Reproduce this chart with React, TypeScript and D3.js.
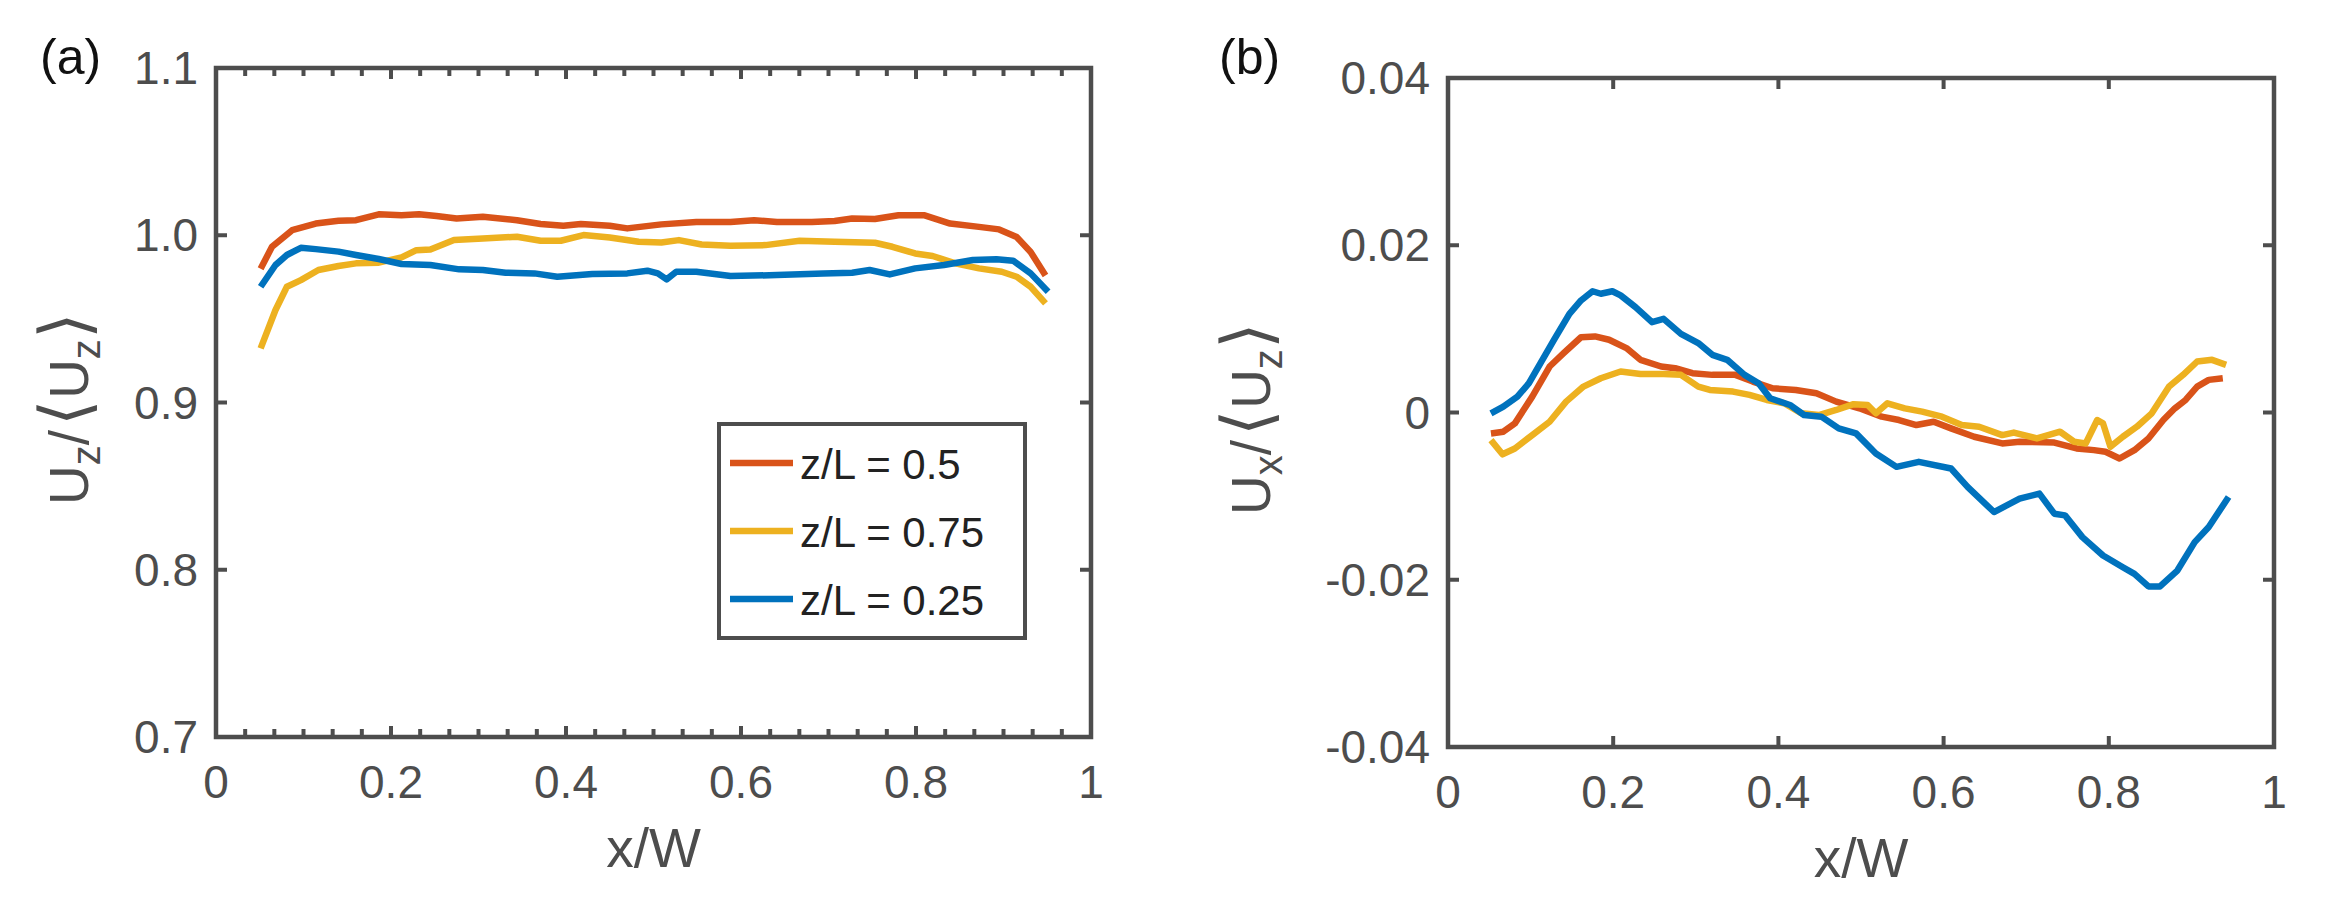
import { useEffect } from 'react';
import * as d3 from 'd3';

type Pt = readonly [number, number];

// ---- data: panel (a), Uz / <Uz> across the width ----
const uzMid: Pt[] = [
  [0.051, 0.98], [0.064, 0.9931], [0.087, 1.003], [0.114, 1.007], [0.14, 1.0087],
  [0.16, 1.009], [0.186, 1.0125], [0.212, 1.012], [0.232, 1.0125], [0.252, 1.0115],
  [0.275, 1.01], [0.305, 1.011], [0.344, 1.009], [0.371, 1.0067], [0.397, 1.0057],
  [0.417, 1.0067], [0.45, 1.0057], [0.47, 1.0041], [0.509, 1.0065], [0.549, 1.0079],
  [0.588, 1.0079], [0.615, 1.009], [0.641, 1.0079], [0.681, 1.0079], [0.707, 1.0085],
  [0.727, 1.01], [0.753, 1.0097], [0.78, 1.012], [0.809, 1.012], [0.839, 1.007],
  [0.872, 1.005], [0.895, 1.0035], [0.915, 0.999], [0.931, 0.99], [0.948, 0.976],
];
const uzUpper: Pt[] = [
  [0.051, 0.9324], [0.068, 0.9553], [0.081, 0.9692], [0.097, 0.9732], [0.117, 0.9792],
  [0.14, 0.9816], [0.16, 0.9832], [0.186, 0.9836], [0.212, 0.9868], [0.229, 0.9911],
  [0.245, 0.9915], [0.272, 0.9971], [0.305, 0.9981], [0.344, 0.9991], [0.371, 0.9967],
  [0.394, 0.9967], [0.42, 1.0001], [0.45, 0.9987], [0.483, 0.9961], [0.509, 0.9957],
  [0.529, 0.9971], [0.555, 0.9945], [0.588, 0.9937], [0.628, 0.9941], [0.667, 0.9967],
  [0.707, 0.9961], [0.753, 0.9955], [0.773, 0.9931], [0.799, 0.9891], [0.819, 0.9876],
  [0.845, 0.9832], [0.872, 0.9802], [0.898, 0.9782], [0.915, 0.9752], [0.931, 0.9692],
  [0.948, 0.9593],
];
const uzLower: Pt[] = [
  [0.051, 0.9692], [0.068, 0.9822], [0.081, 0.9882], [0.097, 0.9925], [0.114, 0.9917],
  [0.14, 0.9902], [0.16, 0.9882], [0.186, 0.9858], [0.212, 0.9828], [0.245, 0.9822],
  [0.278, 0.9796], [0.305, 0.9792], [0.331, 0.9776], [0.364, 0.9772], [0.39, 0.9752],
  [0.43, 0.9768], [0.47, 0.9772], [0.493, 0.9788], [0.505, 0.9772], [0.515, 0.9736],
  [0.526, 0.9782], [0.549, 0.9782], [0.588, 0.9756], [0.641, 0.9762], [0.694, 0.9772],
  [0.727, 0.9776], [0.747, 0.9792], [0.77, 0.9766], [0.799, 0.9802], [0.832, 0.9822],
  [0.865, 0.9852], [0.892, 0.9856], [0.911, 0.9848], [0.931, 0.9772], [0.951, 0.9662],
];

// ---- data: panel (b), Ux / <Uz> across the width ----
const uxMid: Pt[] = [
  [0.052, -0.0025], [0.067, -0.0023], [0.081, -0.0013], [0.102, 0.0019], [0.123, 0.0055],
  [0.14, 0.0071], [0.161, 0.009], [0.178, 0.0091], [0.195, 0.0087], [0.216, 0.0077],
  [0.233, 0.0063], [0.258, 0.0055], [0.275, 0.0053], [0.296, 0.0047], [0.32, 0.0045],
  [0.348, 0.0045], [0.369, 0.0037], [0.393, 0.0029], [0.421, 0.0027], [0.446, 0.0023],
  [0.47, 0.0013], [0.498, 0.0005], [0.525, -0.0005], [0.546, -0.0009], [0.567, -0.0015],
  [0.588, -0.0011], [0.609, -0.0019], [0.637, -0.0029], [0.671, -0.0037], [0.692, -0.0035],
  [0.734, -0.0036], [0.761, -0.0043], [0.782, -0.0045], [0.796, -0.0047], [0.813, -0.0055],
  [0.831, -0.0045], [0.848, -0.0031], [0.866, -0.0009], [0.88, 0.0005], [0.893, 0.0015],
  [0.907, 0.0031], [0.921, 0.0039], [0.938, 0.0041],
];
const uxUpper: Pt[] = [
  [0.052, -0.0033], [0.066, -0.005], [0.081, -0.0043], [0.102, -0.0027], [0.123, -0.0011],
  [0.143, 0.0013], [0.164, 0.0031], [0.185, 0.0041], [0.209, 0.0049], [0.233, 0.0046],
  [0.261, 0.0046], [0.282, 0.0045], [0.303, 0.0031], [0.317, 0.0027], [0.345, 0.0025],
  [0.365, 0.0021], [0.386, 0.0015], [0.407, 0.0011], [0.428, -0.0001], [0.449, -0.0003],
  [0.47, 0.0003], [0.491, 0.001], [0.508, 0.0009], [0.518, -0.0001], [0.532, 0.0011],
  [0.553, 0.0005], [0.574, 0.0001], [0.598, -0.0005], [0.622, -0.0015], [0.643, -0.0017],
  [0.671, -0.0027], [0.685, -0.0024], [0.713, -0.0031], [0.741, -0.0023], [0.758, -0.0035],
  [0.772, -0.0037], [0.786, -0.0009], [0.793, -0.0013], [0.802, -0.0041], [0.817, -0.0029],
  [0.834, -0.0017], [0.852, -0.0001], [0.873, 0.0031], [0.89, 0.0045], [0.907, 0.0061],
  [0.925, 0.0063], [0.942, 0.0057],
];
const uxLower: Pt[] = [
  [0.052, -0.0001], [0.067, 0.0007], [0.084, 0.0019], [0.098, 0.0035], [0.112, 0.0059],
  [0.129, 0.0088], [0.147, 0.0118], [0.161, 0.0134], [0.175, 0.0145], [0.185, 0.0142],
  [0.199, 0.0145], [0.209, 0.014], [0.227, 0.0126], [0.247, 0.0108], [0.261, 0.0112],
  [0.282, 0.0094], [0.303, 0.0083], [0.32, 0.0069], [0.338, 0.0063], [0.359, 0.0045],
  [0.376, 0.0035], [0.39, 0.0017], [0.414, 0.0009], [0.431, -0.0003], [0.452, -0.0005],
  [0.473, -0.0019], [0.494, -0.0025], [0.518, -0.0049], [0.543, -0.0065], [0.57, -0.0059],
  [0.609, -0.0067], [0.629, -0.0089], [0.661, -0.0119], [0.692, -0.0103], [0.716, -0.0097],
  [0.734, -0.0121], [0.747, -0.0123], [0.768, -0.0149], [0.793, -0.0171], [0.817, -0.0185],
  [0.831, -0.0193], [0.848, -0.0208], [0.862, -0.0208], [0.883, -0.0189], [0.904, -0.0155],
  [0.921, -0.0137], [0.945, -0.0101],
];

const seriesNames = ['z/L = 0.5', 'z/L = 0.75', 'z/L = 0.25'];
const seriesColors = ['#D95319', '#EDB120', '#0072BD'];

const xTicks = [0, 0.2, 0.4, 0.6, 0.8, 1];
const xTickLabels = ['0', '0.2', '0.4', '0.6', '0.8', '1'];
const xMinorTicks = d3.range(0, 31).map((i) => i / 30);
const yTicksA = [0.7, 0.8, 0.9, 1.0, 1.1];
const yTickLabelsA = ['0.7', '0.8', '0.9', '1.0', '1.1'];
const yTicksB = [-0.04, -0.02, 0, 0.02, 0.04];
const yTickLabelsB = ['-0.04', '-0.02', '0', '0.02', '0.04'];

const AXIS = '#4d4d4d';
const FONT = '"Liberation Sans", Arial, Helvetica, sans-serif';

interface PanelProps {
  x: d3.ScaleLinear<number, number>;
  y: d3.ScaleLinear<number, number>;
  series: Pt[][];
  yTicks: number[];
  yLabels: string[];
  minor?: number[];
  sub: string;
  tag: string;
  tagX: number;
  labelX: number;
}

const Panel = ({ x, y, series, yTicks, yLabels, minor, sub, tag, tagX, labelX }: PanelProps) => {
  const [x0, x1] = x.range();
  const [y0, y1] = y.range(); // y0 bottom, y1 top
  const line = d3
    .line<Pt>()
    .x((d) => x(d[0]))
    .y((d) => y(d[1]));
  const major = 11;
  const minorLen = 8;
  const midY = (y0 + y1) / 2;

  return (
    <g>
      {series.map((s, i) => (
        <path
          key={i}
          d={line(s) ?? ''}
          fill="none"
          stroke={seriesColors[i]}
          strokeWidth={6.5}
          strokeLinejoin="round"
        />
      ))}
      {/* frame */}
      <rect x={x0} y={y1} width={x1 - x0} height={y0 - y1} fill="none" stroke={AXIS} strokeWidth={4.5} />
      {/* ticks */}
      {(minor ?? []).map((t, i) => (
        <g key={'m' + i} stroke={AXIS} strokeWidth={4}>
          <line x1={x(t)} x2={x(t)} y1={y0} y2={y0 - minorLen} />
          <line x1={x(t)} x2={x(t)} y1={y1} y2={y1 + minorLen} />
        </g>
      ))}
      {xTicks.map((t, i) => (
        <g key={'x' + i}>
          <line x1={x(t)} x2={x(t)} y1={y0} y2={y0 - major} stroke={AXIS} strokeWidth={4} />
          <line x1={x(t)} x2={x(t)} y1={y1} y2={y1 + major} stroke={AXIS} strokeWidth={4} />
          <text x={x(t)} y={y0 + 61} textAnchor="middle" fontSize={46} fill={AXIS} fontFamily={FONT}>
            {xTickLabels[i]}
          </text>
        </g>
      ))}
      {yTicks.map((t, i) => (
        <g key={'y' + i}>
          <line x1={x0} x2={x0 + major} y1={y(t)} y2={y(t)} stroke={AXIS} strokeWidth={4} />
          <line x1={x1} x2={x1 - major} y1={y(t)} y2={y(t)} stroke={AXIS} strokeWidth={4} />
          <text
            x={x0 - 18}
            y={y(t)}
            dy="0.35em"
            textAnchor="end"
            fontSize={46}
            fill={AXIS}
            fontFamily={FONT}
          >
            {yLabels[i]}
          </text>
        </g>
      ))}
      {/* axis labels */}
      <text x={(x0 + x1) / 2} y={y0 + 130} textAnchor="middle" fontSize={55} fill={AXIS} fontFamily={FONT}>
        x/W
      </text>
      <text
        transform={`translate(${labelX},${midY + 6}) rotate(-90)`}
        textAnchor="middle"
        fontSize={55}
        fill={AXIS}
        fontFamily={FONT}
      >
        <tspan>U</tspan>
        <tspan fontSize={40} dy={12}>{sub}</tspan>
        <tspan dy={-12}>/</tspan>
        <tspan fontFamily="DejaVu Sans" fontWeight={200} fontSize={68} dx={4}>⟨</tspan>
        <tspan>U</tspan>
        <tspan fontSize={40} dy={12}>z</tspan>
        <tspan dy={-12} fontFamily="DejaVu Sans" fontWeight={200} fontSize={68}>⟩</tspan>
      </text>
      <text x={tagX} y={74} fontSize={50} fill="#111" fontFamily={FONT}>
        {tag}
      </text>
    </g>
  );
};

export default function App() {
  useEffect(() => {
    document.body.style.margin = '0';
  }, []);

  const xA = d3.scaleLinear().domain([0, 1]).range([216, 1091]);
  const yA = d3.scaleLinear().domain([0.7, 1.1]).range([737, 68]);
  const xB = d3.scaleLinear().domain([0, 1]).range([1448, 2274]);
  const yB = d3.scaleLinear().domain([-0.04, 0.04]).range([747, 78]);

  const legendRows = [463, 531, 599];

  return (
    <svg width={2335} height={903} style={{ display: 'block', background: '#fff' }}>
      <Panel
        x={xA}
        y={yA}
        series={[uzMid, uzUpper, uzLower]}
        yTicks={yTicksA}
        yLabels={yTickLabelsA}
        minor={xMinorTicks}
        sub="z"
        tag="(a)"
        tagX={40}
        labelX={88}
      />
      <Panel
        x={xB}
        y={yB}
        series={[uxMid, uxUpper, uxLower]}
        yTicks={yTicksB}
        yLabels={yTickLabelsB}
        sub="x"
        tag="(b)"
        tagX={1219}
        labelX={1270}
      />
      {/* legend */}
      <g>
        <rect x={719} y={424} width={306} height={214} fill="#fff" stroke={AXIS} strokeWidth={4} />
        {seriesNames.map((name, i) => (
          <g key={name}>
            <line x1={730} x2={793} y1={legendRows[i]} y2={legendRows[i]} stroke={seriesColors[i]} strokeWidth={6.5} />
            <text x={800} y={legendRows[i] + 16} fontSize={42} fill="#222" fontFamily={FONT}>
              {name}
            </text>
          </g>
        ))}
      </g>
    </svg>
  );
}
